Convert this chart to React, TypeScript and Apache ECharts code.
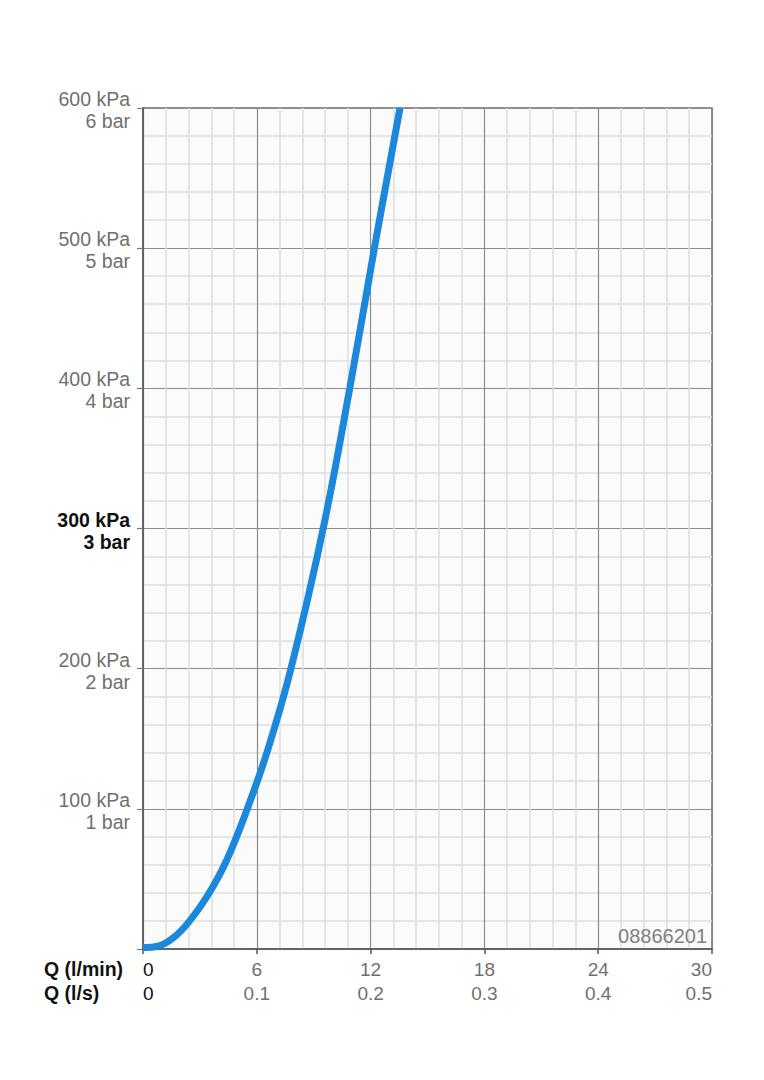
import React, { useEffect, useRef } from "react";
import * as echarts from "echarts";

const flowLpm: number[] = [0, 0.8, 1.6, 2.4, 3.4, 4.4, 5.5, 6.6, 7.8, 9.5, 10.9, 12.2, 13.55];
const pressureKPa: number[] = [1, 2, 8, 19, 38, 63, 100, 143, 200, 300, 400, 500, 600];
const xTicks: number[] = [0, 6, 12, 18, 24, 30];
const yTicks: number[] = [100, 200, 300, 400, 500, 600];
const highlightKPa = 300;
const codeLabel = "08866201";

const FONT = "'Liberation Sans', Arial, Helvetica, sans-serif";

export default function App() {
  const ref = useRef<HTMLDivElement>(null);
  useEffect(() => {
    document.body.style.margin = "0";
    const chart = echarts.init(ref.current!, null, { renderer: "svg" });
    const data = flowLpm.map((q, i) => [q, pressureKPa[i]]);
    chart.setOption({
      animation: false,
      backgroundColor: "#ffffff",
      textStyle: { fontFamily: FONT },
      grid: {
        left: 143,
        right: 52,
        top: 108,
        bottom: 131,
        show: true,
        backgroundColor: "#fbfbfb",
        borderColor: "#6e6e6e",
        borderWidth: 1.5,
      },
      xAxis: {
        type: "value",
        min: 0,
        max: 30,
        interval: 6,
        axisLine: { show: true, lineStyle: { color: "#555", width: 1.5 } },
        axisTick: { show: true, length: 5, lineStyle: { color: "#555", width: 1.5 } },
        minorTick: { show: false, splitNumber: 5 },
        minorSplitLine: { show: true, lineStyle: { color: "#dedede", width: 1.5 } },
        splitLine: { show: true, lineStyle: { color: "#8c8c8c", width: 1.2 } },
        axisLabel: {
          margin: 8,
          alignMinLabel: "left",
          alignMaxLabel: "right",
          formatter: (v: number) => {
            if (!xTicks.includes(v)) return "";
            const s = (v / 60).toFixed(1);
            if (v === 0) return `{k|0}\n{k|0}`;
            return `{g|${v}}\n{g|${s}}`;
          },
          rich: {
            g: { color: "#707070", fontSize: 19, lineHeight: 24, fontFamily: FONT },
            k: { color: "#111", fontSize: 19, lineHeight: 24, fontFamily: FONT },
          },
        },
      },
      yAxis: {
        type: "value",
        min: 0,
        max: 600,
        interval: 100,
        axisLine: { show: true, lineStyle: { color: "#555", width: 1.5 } },
        axisTick: { show: true, length: 6, lineStyle: { color: "#777", width: 1.2 } },
        minorTick: { show: false, splitNumber: 5 },
        minorSplitLine: { show: true, lineStyle: { color: "#dedede", width: 1.5 } },
        splitLine: { show: true, lineStyle: { color: "#8c8c8c", width: 1.2 } },
        axisLabel: {
          margin: 13,
          padding: [4, 0, 0, 0],
          formatter: (v: number) => {
            if (!yTicks.includes(v)) return "";
            const bar = v / 100;
            if (v === highlightKPa) return `{b|${v} kPa}\n{b|${bar} bar}`;
            return `{g|${v} kPa}\n{g|${bar} bar}`;
          },
          rich: {
            g: { color: "#707070", fontSize: 19.5, lineHeight: 22, align: "right", fontFamily: FONT },
            b: { color: "#111", fontSize: 19.5, lineHeight: 22, fontWeight: "bold", align: "right", fontFamily: FONT },
          },
        },
      },
      graphic: [
        {
          type: "text",
          left: 44,
          top: 959,
          style: { text: "Q (l/min)", fill: "#111", font: `bold 19.5px ${FONT}` },
        },
        {
          type: "text",
          left: 44,
          top: 983,
          style: { text: "Q (l/s)", fill: "#111", font: `bold 19.5px ${FONT}` },
        },
        {
          type: "text",
          right: 57,
          top: 926,
          z: 10,
          style: { text: codeLabel, fill: "#808080", font: `20px ${FONT}` },
        },
      ],
      series: [
        {
          type: "line",
          data,
          smooth: 0.4,
          showSymbol: false,
          lineStyle: { color: "#1c88db", width: 7 },
          itemStyle: { color: "#1c88db" },
        },
      ],
    });
    return () => chart.dispose();
  }, []);
  return <div ref={ref} style={{ width: 764, height: 1080 }} />;
}
